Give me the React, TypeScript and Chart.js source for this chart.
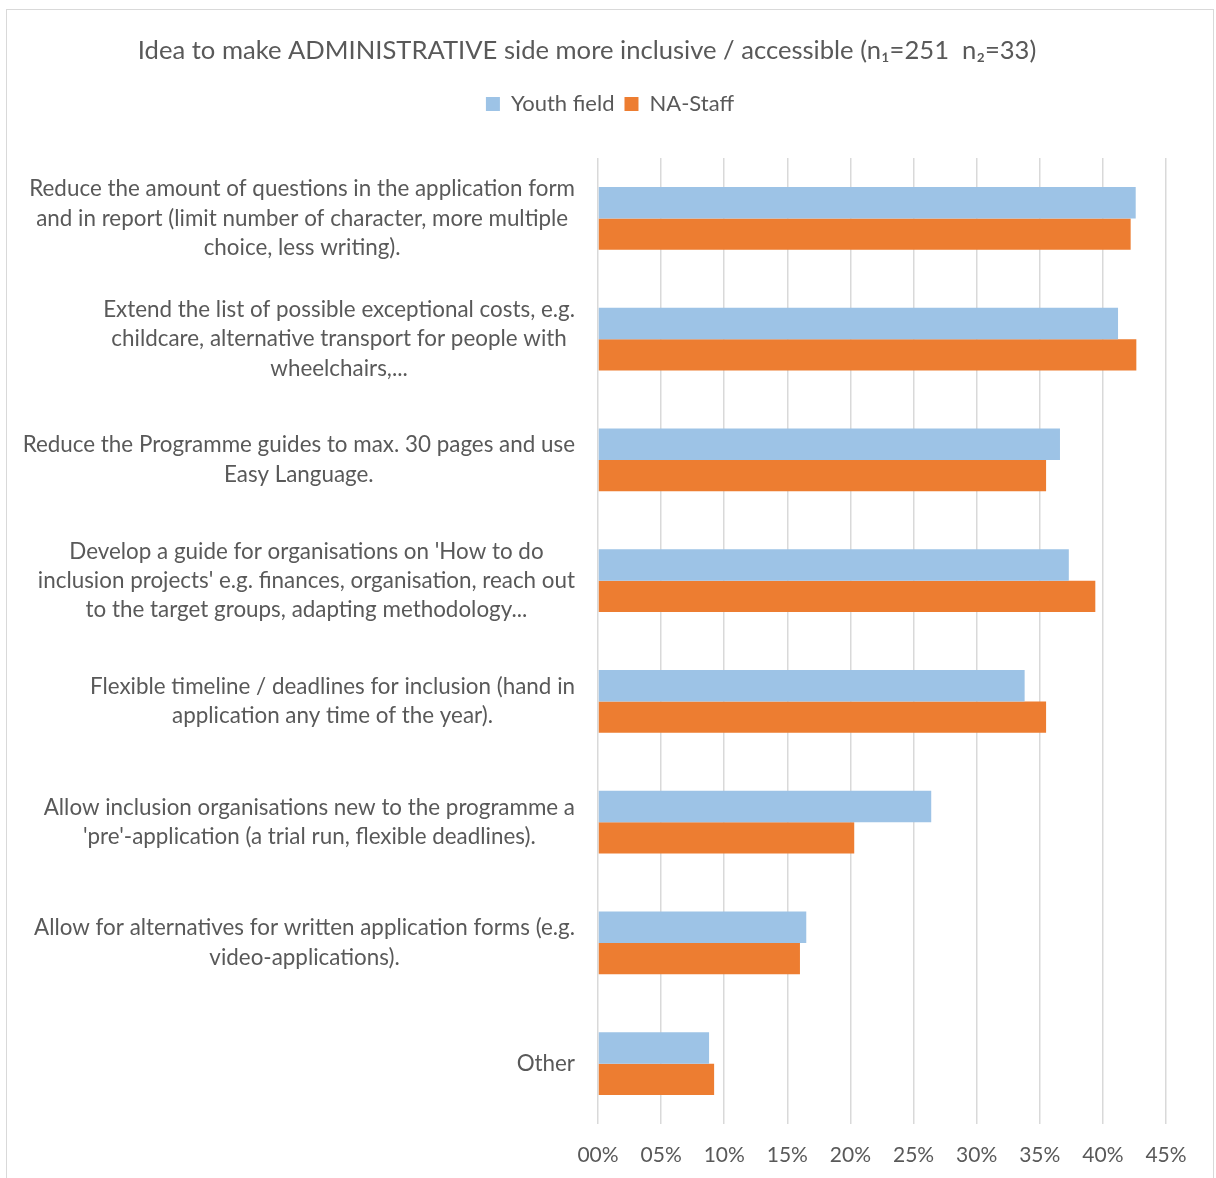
import React, { useEffect, useRef } from "react";
import { Chart, registerables } from "chart.js";

Chart.register(...registerables);

const TITLE = "Idea to make ADMINISTRATIVE side more inclusive / accessible (n\u2081=251  n\u2082=33)";
const SERIES_NAMES = ["Youth field", "NA-Staff"];
const CATEGORY_LABELS: string[][] = [
  [
    "Reduce the amount of questions in the application form",
    "and in report (limit number of character, more multiple",
    "choice, less writing).",
  ],
  [
    "Extend the list of possible exceptional costs, e.g.",
    "childcare, alternative transport for people with",
    "wheelchairs,...",
  ],
  ["Reduce the Programme guides to max. 30 pages and use", "Easy Language."],
  [
    "Develop a guide for organisations on 'How to do",
    "inclusion projects' e.g. finances, organisation, reach out",
    "to the target groups, adapting methodology...",
  ],
  ["Flexible timeline / deadlines for inclusion (hand in", "application any time of the year)."],
  ["Allow inclusion organisations new to the programme a", "'pre'-application (a trial run, flexible deadlines)."],
  ["Allow for alternatives for written application forms (e.g.", "video-applications)."],
  ["Other"],
];
const YOUTH_FIELD = [42.6, 41.2, 36.6, 37.3, 33.8, 26.4, 16.5, 8.8];
const NA_STAFF = [42.2, 42.65, 35.5, 39.4, 35.5, 20.3, 16.0, 9.2];
const X_MIN = 0;
const X_MAX = 45;
const X_STEP = 5;

const TEXT = "#595959";
const FONT = "Lato, 'Open Sans', sans-serif";

const categoryLabelPlugin = {
  id: "categoryLabels",
  afterDraw(chart: any) {
    const ctx = chart.ctx;
    const yScale = chart.scales.y;
    ctx.save();
    ctx.font = `22.4px ${FONT}`;
    ctx.fillStyle = TEXT;
    ctx.textAlign = "center";
    ctx.textBaseline = "middle";
    const right = yScale.right - 23;
    const lh = 29.3;
    CATEGORY_LABELS.forEach((lines, i) => {
      const yc = yScale.getPixelForValue(i);
      const w = Math.max(...lines.map((l) => ctx.measureText(l).width));
      const cx = right - w / 2;
      lines.forEach((l, j) => {
        ctx.fillText(l, cx, yc + (j - (lines.length - 1) / 2) * lh);
      });
    });
    ctx.restore();
  },
};

export default function App() {
  const ref = useRef<HTMLCanvasElement | null>(null);
  useEffect(() => {
    if (!ref.current) return;
    const chart = new Chart(ref.current, {
      type: "bar",
      data: {
        labels: CATEGORY_LABELS.map((l) => l.join(" ")),
        datasets: [
          {
            label: SERIES_NAMES[0],
            data: YOUTH_FIELD,
            backgroundColor: "#9DC3E6",
            xAxisID: "x",
            yAxisID: "y",
          },
          {
            label: SERIES_NAMES[1],
            data: NA_STAFF,
            backgroundColor: "#ED7D31",
            xAxisID: "x",
            yAxisID: "y",
          },
        ],
      },
      options: {
        indexAxis: "y",
        responsive: false,
        animation: false,
        layout: { padding: 0 },
        datasets: {
          bar: { categoryPercentage: 0.52, barPercentage: 1 },
        },
        scales: {
          x: {
            type: "linear",
            position: "bottom",
            min: X_MIN,
            max: X_MAX,
            ticks: {
              stepSize: X_STEP,
              color: TEXT,
              font: { family: FONT, size: 21 },
              padding: 19,
              callback: (v: any) => String(v).padStart(2, "0") + "%",
            },
            grid: { color: "#d9d9d9", lineWidth: 1.5, drawTicks: false },
            border: { display: false },
            afterFit: (s: any) => {
              s.height = 56;
            },
          },
          y: {
            type: "category",
            position: "left",
            ticks: { display: false },
            grid: { display: false },
            border: { display: false },
            afterFit: (s: any) => {
              s.width = 591;
            },
          },
          xSpacer: {
            type: "linear",
            position: "top",
            display: true,
            ticks: { display: false },
            grid: { display: false },
            border: { display: false },
            afterFit: (s: any) => {
              s.height = 33;
            },
          },
          ySpacer: {
            type: "linear",
            position: "right",
            display: true,
            ticks: { display: false },
            grid: { display: false },
            border: { display: false },
            afterFit: (s: any) => {
              s.width = 47;
            },
          },
        },
        plugins: {
          title: {
            display: true,
            text: TITLE + "       ",
            color: TEXT,
            font: { family: FONT, size: 25.6, weight: "normal" },
            padding: { top: 25.6, bottom: 16.7 },
          },
          legend: {
            display: true,
            position: "top",
            labels: {
              color: TEXT,
              font: { family: FONT, size: 22 },
              boxWidth: 14,
              boxHeight: 14,
              padding: 10,
            },
          },
          tooltip: { enabled: false },
        },
      },
      plugins: [categoryLabelPlugin],
    } as any);
    return () => chart.destroy();
  }, []);

  return (
    <div
      style={{
        position: "absolute",
        left: 6,
        top: 9,
        width: 1208,
        height: 1172,
        border: "1px solid #d9d9d9",
        boxSizing: "border-box",
        background: "#fff",
      }}
    >
      <canvas ref={ref} width={1206} height={1170} style={{ display: "block" }} />
    </div>
  );
}
